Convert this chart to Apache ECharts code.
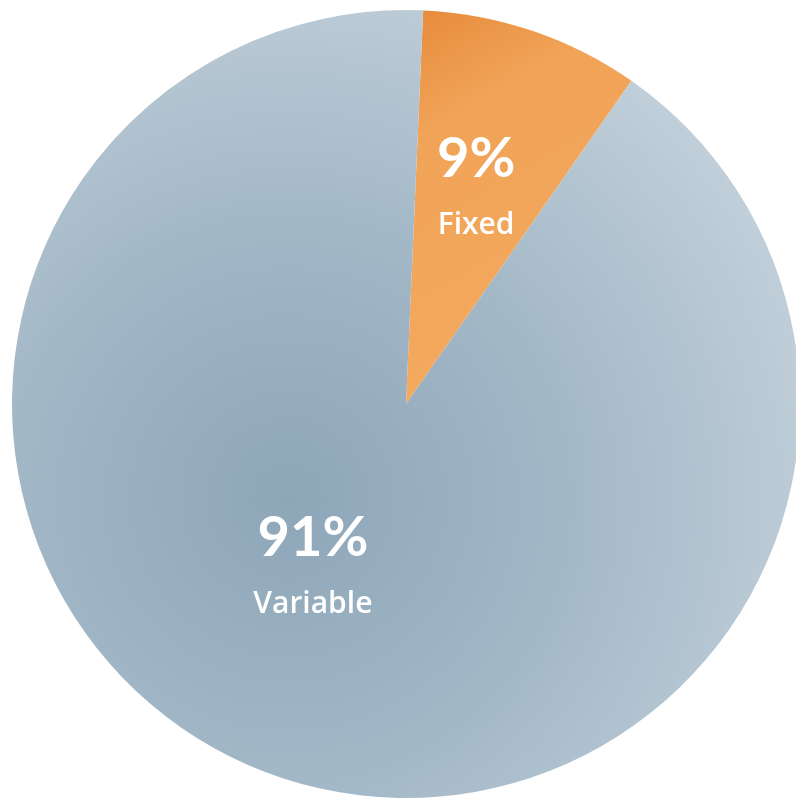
<!DOCTYPE html>
<html>
<head>
<meta charset="utf-8">
<script src="https://cdn.jsdelivr.net/npm/echarts@6/dist/echarts.min.js"></script>
<style>html,body{margin:0;padding:0;background:#fff;}#c{width:796px;height:802px;}</style>
</head>
<body>
<div id="c"></div>
<script>
const categories = ['Fixed', 'Variable'];
const values = [9, 91];
const percentLabels = ['9%', '91%'];

const chart = echarts.init(document.getElementById('c'));
const colors = [
  new echarts.graphic.LinearGradient(0, 0, 1, 1, [
    {offset: 0, color: '#E68A3A'},
    {offset: 0.25, color: '#F1A357'},
    {offset: 1, color: '#F4AC62'}
  ]),
  new echarts.graphic.RadialGradient(0.35, 0.62, 0.8, [
    {offset: 0, color: '#8DA6B8'},
    {offset: 0.45, color: '#A3B8C7'},
    {offset: 1, color: '#CAD6DF'}
  ])
];
const offsets = [[6, -25], [-29, -25]];
chart.setOption({
  animation: false,
  backgroundColor: '#ffffff',
  series: [{
    type: 'pie',
    center: [406, 404],
    radius: [0, 394],
    startAngle: 87.5,
    clockwise: true,
    silent: true,
    data: categories.map((c, i) => ({
      name: c,
      value: values[i],
      itemStyle: {color: colors[i]}
    })),
    label: {
      show: true,
      position: 'inside',
      color: '#ffffff',
      formatter: p => '{a|' + percentLabels[p.dataIndex] + '}\n{b|' + p.name + '}',
      rich: {
        a: {fontFamily: 'Lato', fontWeight: 'bold', fontSize: 56, color: '#fff', lineHeight: 72},
        b: {fontFamily: 'Open Sans', fontWeight: 600, fontSize: 30, color: '#fff', lineHeight: 62}
      }
    },
    labelLine: {show: false},
    labelLayout: p => ({dx: offsets[p.dataIndex][0], dy: offsets[p.dataIndex][1]})
  }]
});
</script>
</body>
</html>
